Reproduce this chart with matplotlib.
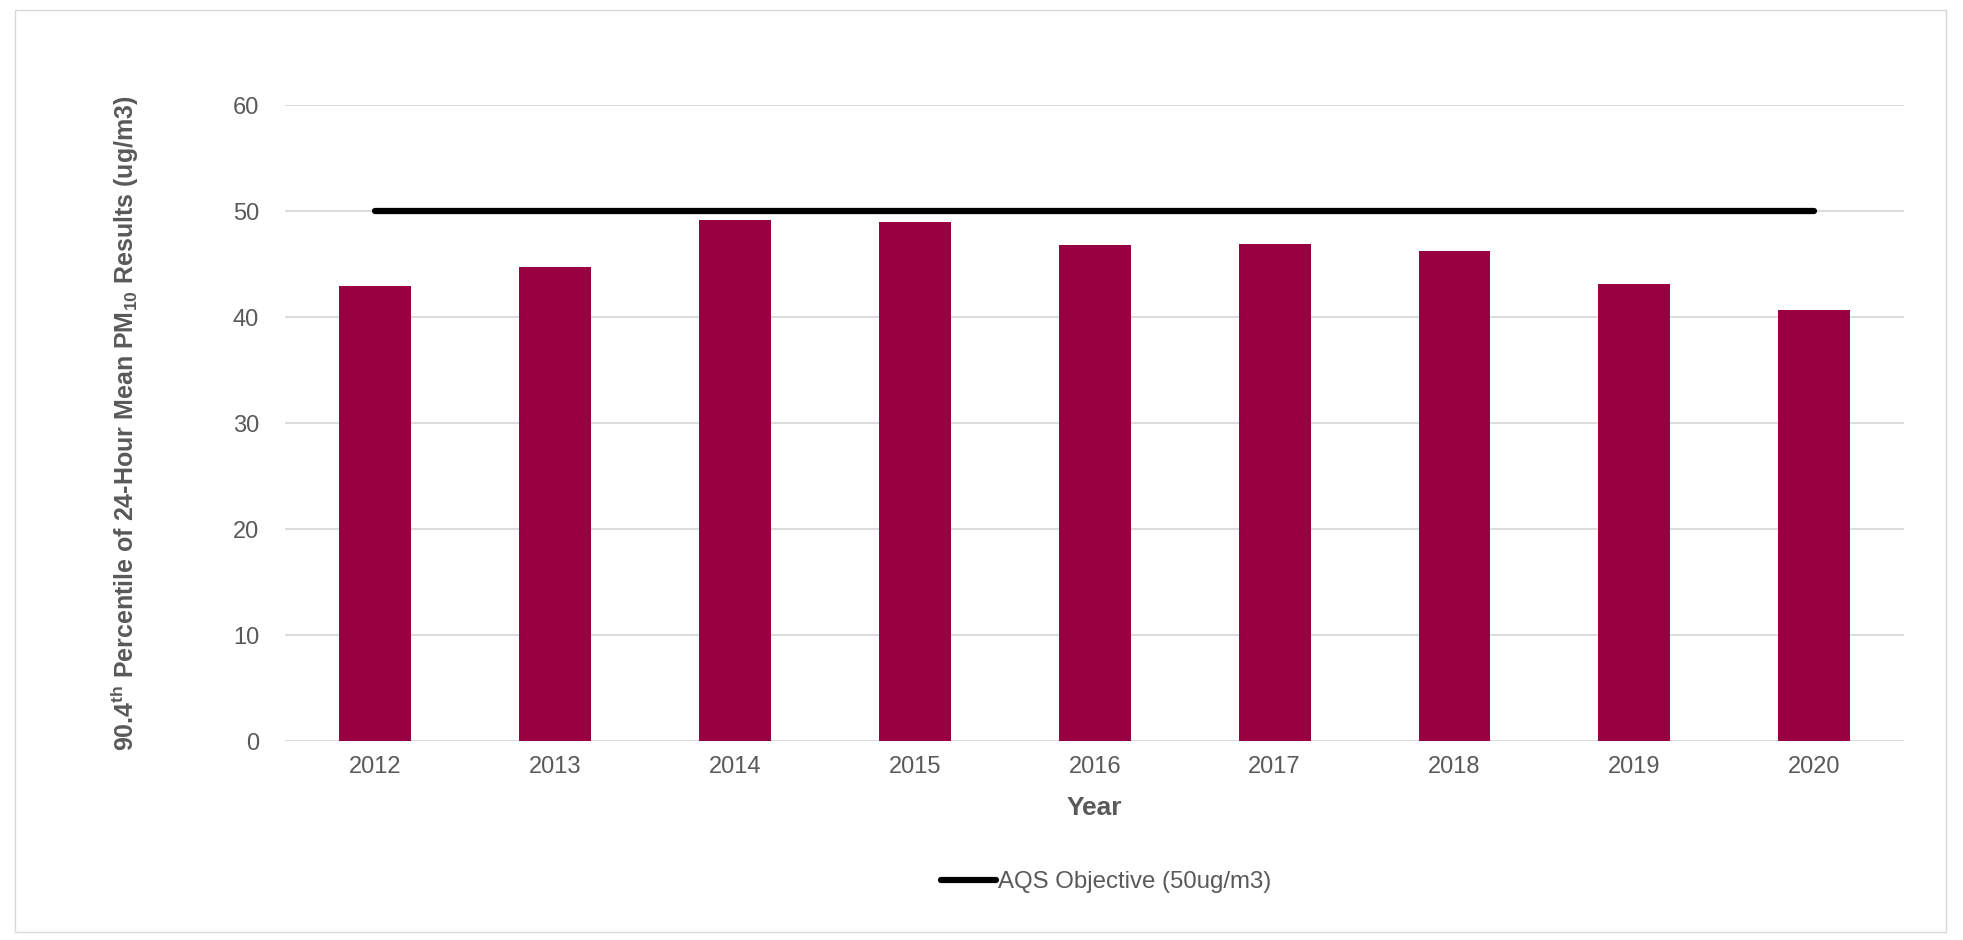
import numpy as np
import matplotlib.pyplot as plt
from matplotlib.patches import Rectangle

plt.rcParams['font.family'] = ['Liberation Sans', 'DejaVu Sans']
plt.rcParams['mathtext.fontset'] = 'custom'
plt.rcParams['mathtext.rm'] = 'Liberation Sans'
plt.rcParams['mathtext.bf'] = 'Liberation Sans:bold'
plt.rcParams['mathtext.it'] = 'Liberation Sans:italic'

years = ['2012', '2013', '2014', '2015', '2016', '2017', '2018', '2019', '2020']
pm10 = [42.95, 44.75, 49.15, 49.0, 46.85, 46.95, 46.25, 43.1, 40.65]
objective = [50, 50, 50, 50, 50, 50, 50, 50, 50]

grey = '#595959'
x = np.arange(len(years))

fig = plt.figure(figsize=(19.63, 9.40), dpi=100)
ax = fig.add_axes([0.1454, 0.2117, 0.970 - 0.1454, 0.888 - 0.2117])

ax.bar(x, pm10, width=0.4, color='#990041', zorder=2)
ax.plot(x, objective, color='black', lw=4.5, solid_capstyle='round', zorder=3,
        label='AQS Objective (50ug/m3)')

ax.set_xlim(-0.5, len(years) - 0.5)
ax.set_ylim(0, 60)
ax.set_yticks(range(0, 61, 10))
ax.set_xticks(x)
ax.set_xticklabels(years)
ax.grid(axis='y', color='#d9d9d9', lw=1.3, zorder=0)
ax.set_axisbelow(True)
for s in ax.spines.values():
    s.set_visible(False)
ax.tick_params(length=0, labelsize=17, labelcolor=grey)
ax.tick_params(axis='y', pad=19)
ax.tick_params(axis='x', pad=11)

ax.set_xlabel('Year', fontsize=19, fontweight='bold', color=grey, labelpad=13)
ax.set_ylabel(r'90.4$\mathbf{^{th}}$ Percentile of 24-Hour Mean PM$\mathbf{_{10}}$ Results (ug/m3)',
              fontsize=18, fontweight='bold', color=grey, labelpad=66)

leg = ax.legend(loc='center', bbox_to_anchor=(0.507, -0.222), frameon=False,
                fontsize=17.3, handlelength=2.3, handletextpad=0.1)
for t in leg.get_texts():
    t.set_color(grey)

fig.patches.append(Rectangle((0.0075, 0.008), 0.984, 0.981, transform=fig.transFigure,
                             fill=False, edgecolor='#d9d9d9', lw=1))

fig.savefig('out.png', dpi=100)
